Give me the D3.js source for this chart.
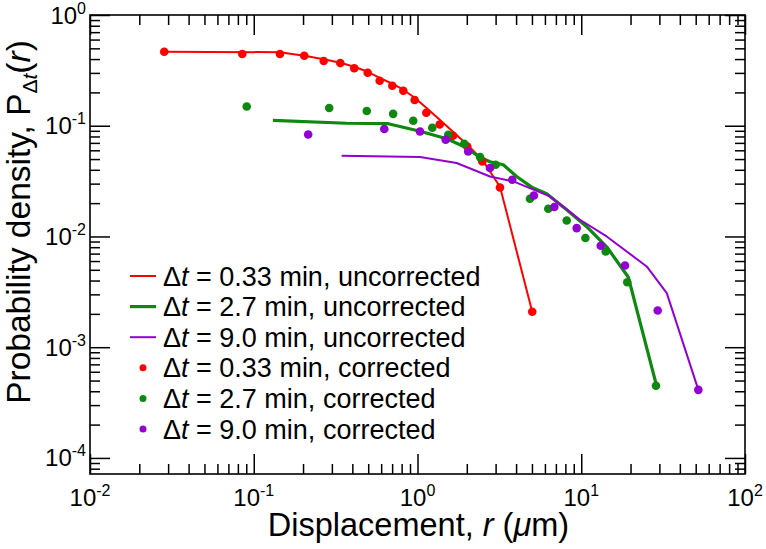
<!DOCTYPE html>
<html>
<head>
<meta charset="utf-8">
<script src="https://cdn.jsdelivr.net/npm/d3@7"></script>
<style>
  html, body { margin: 0; padding: 0; background: #fff; }
  svg { display: block; }
  text { font-family: "Liberation Sans", Arial, Helvetica, sans-serif; fill: #000; }
</style>
</head>
<body>
<svg id="chart" width="766" height="549"></svg>
<script>
// ---- data ----
const xTickValues = [0.01, 0.1, 1, 10, 100];
const xTickExps = ["-2", "-1", "0", "1", "2"];
const yTickValues = [1, 0.1, 0.01, 0.001, 0.0001];
const yTickExps = ["0", "-1", "-2", "-3", "-4"];

// Δt = 0.33 min, uncorrected (line)
const redUncX = [0.0283, 0.1445, 0.2035, 0.2675, 0.3378, 0.411, 0.4966, 0.5877, 0.7015, 0.819, 0.961, 1.132, 1.366, 1.648, 2.014, 2.487, 3.19, 5.02];
const redUncY = [0.466, 0.461, 0.429, 0.399, 0.371, 0.341, 0.307, 0.271, 0.2395, 0.2114, 0.179, 0.1455, 0.1133, 0.0883, 0.0674, 0.0493, 0.0281, 0.00209];
// Δt = 2.7 min, uncorrected (line)
const greenUncX = [0.131, 0.3695, 0.663, 1.036, 1.508, 1.904, 2.41, 2.77, 3.34, 4.03, 4.98, 6.15, 8.15, 10.8, 14.3, 19.4, 28.9];
const greenUncY = [0.1116, 0.1053, 0.1043, 0.0892, 0.0763, 0.0653, 0.0519, 0.0473, 0.0444, 0.0348, 0.0279, 0.0243, 0.0174, 0.01225, 0.00807, 0.00428, 0.000442];
// Δt = 9.0 min, uncorrected (line)
const purpleUncX = [0.344, 1.036, 1.735, 2.77, 3.85, 6.44, 9.82, 14.3, 25.1, 33.3, 51.9];
const purpleUncY = [0.0536, 0.0523, 0.0461, 0.0348, 0.0314, 0.0230, 0.01415, 0.0100, 0.00536, 0.00308, 0.000412];

// Δt = 0.33 min, corrected (points)
const redCorX = [0.0284, 0.0851, 0.1445, 0.2035, 0.2675, 0.3378, 0.411, 0.4966, 0.5877, 0.7015, 0.819, 0.961, 1.132, 1.366, 1.648, 2.014, 2.487, 3.19, 5.02];
const redCorY = [0.466, 0.444, 0.444, 0.429, 0.384, 0.368, 0.330, 0.301, 0.255, 0.230, 0.207, 0.1706, 0.131, 0.1027, 0.0812, 0.065, 0.0476, 0.0277, 0.00209];
// Δt = 2.7 min, corrected (points)
const greenCorX = [0.0906, 0.289, 0.49, 0.71, 0.942, 1.231, 1.542, 1.93, 2.41, 3.0, 4.86, 6.29, 8.15, 10.6, 14.1, 19.1, 28.6];
const greenCorY = [0.149, 0.1445, 0.136, 0.128, 0.111, 0.096, 0.083, 0.0688, 0.0521, 0.0444, 0.0219, 0.0178, 0.01395, 0.00968, 0.00732, 0.00386, 0.000448];
// Δt = 9.0 min, corrected (points)
const purpleCorX = [0.215, 0.627, 1.036, 1.486, 2.04, 2.77, 3.79, 5.14, 6.85, 9.38, 13.15, 18.5, 29.3, 51.9];
const purpleCorY = [0.0834, 0.0933, 0.0888, 0.0747, 0.0586, 0.0415, 0.0325, 0.02347, 0.01843, 0.0119, 0.00824, 0.00547, 0.002146, 0.000412];

const legendDt = ["0.33", "2.7", "9.0", "0.33", "2.7", "9.0"];
const legendKind = ["uncorrected", "uncorrected", "uncorrected", "corrected", "corrected", "corrected"];

// ---- styling ----
const RED = "#ff0000", GREEN = "#0e880e", PURPLE = "#9400d3";
const L = 90, R = 745, T = 15, B = 474;

const svg = d3.select("#chart");
const x = d3.scaleLog().domain([0.01, 100]).range([L, R]);
const y = d3.scaleLog().domain([7.16e-5, 1]).range([B, T]);

// minor tick values
const xMinor = [];
for (let e = -2; e < 2; e++) for (let m = 2; m <= 9; m++) xMinor.push(m * Math.pow(10, e));
const yMinor = [];
for (let e = -5; e < 0; e++) for (let m = 2; m <= 9; m++) {
  const v = m * Math.pow(10, e);
  if (v >= y.domain()[0] && v <= 1) yMinor.push(v);
}

function drawAxis(gen, transform) {
  const g = svg.append("g").attr("transform", transform).call(gen);
  g.select(".domain").remove();
  g.selectAll("line").attr("stroke", "#000").attr("stroke-width", 1.5);
  g.selectAll("text").remove();
  return g;
}
const MAJ = 20, MIN = 10;
drawAxis(d3.axisBottom(x).tickValues(xTickValues).tickSize(-MAJ).tickFormat(""), `translate(0,${B})`);
drawAxis(d3.axisBottom(x).tickValues(xMinor).tickSize(-MIN).tickFormat(""), `translate(0,${B})`);
drawAxis(d3.axisTop(x).tickValues(xTickValues).tickSize(-MAJ).tickFormat(""), `translate(0,${T})`);
drawAxis(d3.axisTop(x).tickValues(xMinor).tickSize(-MIN).tickFormat(""), `translate(0,${T})`);
drawAxis(d3.axisLeft(y).tickValues(yTickValues).tickSize(-MAJ).tickFormat(""), `translate(${L},0)`);
drawAxis(d3.axisLeft(y).tickValues(yMinor).tickSize(-MIN).tickFormat(""), `translate(${L},0)`);
drawAxis(d3.axisRight(y).tickValues(yTickValues).tickSize(-MAJ).tickFormat(""), `translate(${R},0)`);
drawAxis(d3.axisRight(y).tickValues(yMinor).tickSize(-MIN).tickFormat(""), `translate(${R},0)`);

svg.append("rect").attr("x", L).attr("y", T).attr("width", R - L).attr("height", B - T)
  .attr("fill", "none").attr("stroke", "#000").attr("stroke-width", 1.6);

// tick labels
xTickValues.forEach((v, i) => {
  const t = svg.append("text").attr("x", x(v)).attr("y", 506).attr("text-anchor", "middle").attr("font-size", 24);
  t.append("tspan").text("10");
  t.append("tspan").attr("dy", -10).attr("font-size", 16).text(xTickExps[i]);
});
yTickValues.forEach((v, i) => {
  const t = svg.append("text").attr("x", 86).attr("y", y(v) + 8.5).attr("text-anchor", "end").attr("font-size", 24);
  t.append("tspan").text("10");
  t.append("tspan").attr("dy", -10).attr("font-size", 16).text(yTickExps[i]);
});

// axis titles
const xl = svg.append("text").attr("x", (L + R) / 2 + 1).attr("y", 536).attr("text-anchor", "middle").attr("font-size", 32.5);
xl.append("tspan").text("Displacement, ");
xl.append("tspan").attr("font-style", "italic").text("r");
xl.append("tspan").text(" (");
xl.append("tspan").attr("font-style", "italic").text("μ");
xl.append("tspan").text("m)");

const yl = svg.append("text").attr("transform", "translate(30,222) rotate(-90)").attr("text-anchor", "middle").attr("font-size", 33.5);
yl.append("tspan").text("Probability density, P");
yl.append("tspan").attr("font-size", 21).attr("dy", 7).text("Δ");
yl.append("tspan").attr("font-size", 21).attr("font-style", "italic").text("t");
yl.append("tspan").attr("dy", -7).text("(");
yl.append("tspan").attr("font-style", "italic").text("r");
yl.append("tspan").text(")");

// lines
const lineGen = d3.line().x(d => x(d[0])).y(d => y(d[1]));
const lines = [
  { xs: redUncX, ys: redUncY, c: RED, w: 2 },
  { xs: greenUncX, ys: greenUncY, c: GREEN, w: 3.2 },
  { xs: purpleUncX, ys: purpleUncY, c: PURPLE, w: 2 }
];
lines.forEach(s => {
  svg.append("path").datum(s.xs.map((v, i) => [v, s.ys[i]]))
    .attr("d", lineGen).attr("fill", "none").attr("stroke", s.c)
    .attr("stroke-width", s.w).attr("stroke-linejoin", "round");
});

// points
const pts = [
  { xs: redCorX, ys: redCorY, c: RED },
  { xs: greenCorX, ys: greenCorY, c: GREEN },
  { xs: purpleCorX, ys: purpleCorY, c: PURPLE }
];
pts.forEach(s => {
  svg.append("g").selectAll("circle").data(s.xs.map((v, i) => [v, s.ys[i]])).join("circle")
    .attr("cx", d => x(d[0])).attr("cy", d => y(d[1])).attr("r", 4.3).attr("fill", s.c);
});

// legend
const legColors = [RED, GREEN, PURPLE, RED, GREEN, PURPLE];
const legW = [2, 3.2, 2];
const rowY = [276, 306.6, 337.2, 367.8, 398.4, 429];
legendDt.forEach((dt, i) => {
  const cy = rowY[i];
  if (i < 3) {
    svg.append("line").attr("x1", 130).attr("x2", 156).attr("y1", cy).attr("y2", cy)
      .attr("stroke", legColors[i]).attr("stroke-width", legW[i]);
  } else {
    svg.append("circle").attr("cx", 143).attr("cy", cy).attr("r", 3.5).attr("fill", legColors[i]);
  }
  const t = svg.append("text").attr("x", 163).attr("y", cy + 9.5).attr("font-size", 27);
  t.append("tspan").text("Δ");
  t.append("tspan").attr("font-style", "italic").text("t");
  t.append("tspan").text(" = " + dt + " min, " + legendKind[i]);
});
</script>
</body>
</html>
